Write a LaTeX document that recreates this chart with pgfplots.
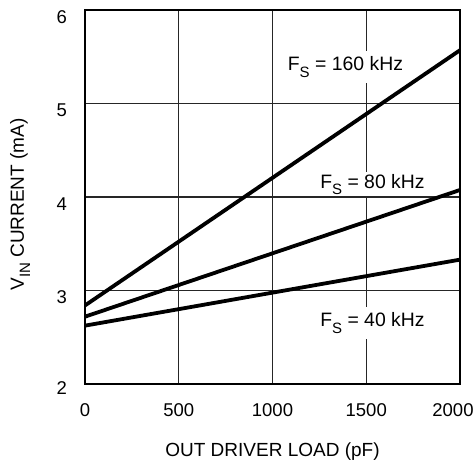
\documentclass[border=0pt]{standalone}
\usepackage{pgfplots}
\pgfplotsset{compat=1.18}
\usepackage{fontspec}
\setmainfont{Liberation Sans}

\newcommand{\sub}[1]{\raisebox{-0.32em}{\fontsize{15}{17}\selectfont #1}}

\begin{document}
\begin{tikzpicture}
\begin{axis}[
    name=ax,
    scale only axis,
    width=375pt, height=374pt,
    xmin=0, xmax=2000, ymin=2, ymax=6,
    xtick={0,500,...,2000}, ytick={2,3,4,5,6},
    xticklabels={0,500,1000,1500,2000\kern14pt},
    yticklabels={\raisebox{6pt}{2},3,4,5,6},
    grid=major,
    major grid style={line width=1.3pt, black!85},
    axis line style={line width=2pt},
    major tick length=0pt,
    tick label style={font=\fontsize{18.5}{21}\selectfont, inner sep=0pt},
    /pgf/number format/assume math mode=true,
    /pgf/number format/1000 sep={},
    xticklabel style={anchor=north, yshift=-19pt},
    yticklabel style={anchor=east, xshift=-18pt, yshift=-7pt},
    xlabel={OUT DRIVER LOAD (pF)},
    ylabel={V\sub{IN} CURRENT (mA)},
    label style={font=\fontsize{19}{22}\selectfont, inner sep=0pt},
    xlabel style={at={(axis description cs:0.5,0)}, anchor=north, yshift=-59pt},
    ylabel style={at={(axis description cs:-0.2,0.48)}, anchor=north},
]
\addplot[line width=3.8pt, black] coordinates {(0,2.84) (2000,5.57)};
\addplot[line width=3.8pt, black] coordinates {(0,2.72) (2000,4.075)};
\addplot[line width=3.8pt, black] coordinates {(0,2.624) (2000,3.33)};
\node[fill=white, inner xsep=4pt, inner ysep=6pt, anchor=base, font=\fontsize{19.4}{22}\selectfont] at (axis cs:1389,5.348) {F\sub{S} = 160 kHz};
\node[fill=white, inner xsep=4pt, inner ysep=1.5pt, anchor=base, font=\fontsize{19.4}{22}\selectfont] at (axis cs:1533,4.096) {F\sub{S} = 80 kHz};
\node[fill=white, inner xsep=4pt, inner ysep=6pt, anchor=base, font=\fontsize{19.4}{22}\selectfont] at (axis cs:1533,2.610) {F\sub{S} = 40 kHz};
\end{axis}
\pgfresetboundingbox
\path[use as bounding box] ([shift={(-85pt,-81pt)}]ax.south west) rectangle ([shift={(14pt,10pt)}]ax.north east);
\end{tikzpicture}
\end{document}
